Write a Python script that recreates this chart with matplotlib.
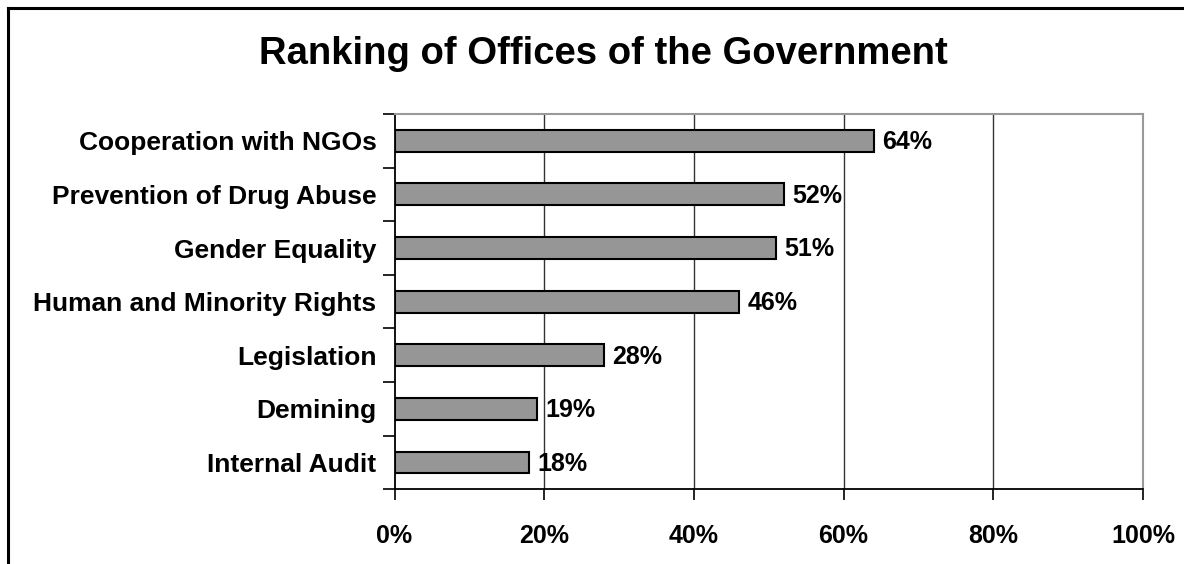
import matplotlib
matplotlib.use("Agg")
import matplotlib.pyplot as plt
from matplotlib.lines import Line2D
from matplotlib.ticker import FixedLocator, FuncFormatter

# Offices ranked, listed bottom to top
offices = ["Internal Audit", "Demining", "Legislation", "Human and Minority Rights",
           "Gender Equality", "Prevention of Drug Abuse", "Cooperation with NGOs"]
shares = [18, 19, 28, 46, 51, 52, 64]
x_ticks = [0, 20, 40, 60, 80, 100]

W, H = 1184, 564
fig = plt.figure(figsize=(W / 100, H / 100), dpi=100)
fig.patch.set_facecolor("white")

font = "Liberation Sans"
plt.rcParams["font.family"] = [font, "DejaVu Sans"]

ax = fig.add_axes([394.5 / W, (H - 489.3) / H, (1143 - 394.5) / W, (489.3 - 114) / H])

pos = list(range(len(offices)))
ax.barh(pos, shares, height=0.41, color="#969696", edgecolor="black", linewidth=1.5, zorder=3)

for p, v in zip(pos, shares):
    ax.annotate(f"{v}%", xy=(v, p), xytext=(6, -1), textcoords="offset points",
                ha="left", va="center", fontsize=18, fontweight="bold", color="black")

ax.set_xlim(0, 100)
ax.set_ylim(-0.5, len(offices) - 0.5)

# Vertical gridlines
ax.xaxis.set_major_locator(FixedLocator(x_ticks))
ax.xaxis.set_major_formatter(FuncFormatter(lambda v, _: f"{int(v)}%"))
for t in x_ticks[1:-1]:
    ax.axvline(t, color="#333333", linewidth=1.0, zorder=1)

ax.tick_params(axis="x", which="major", direction="out", length=8, width=1.2,
               color="black", pad=17, labelsize=18)
for lbl in ax.get_xticklabels():
    lbl.set_fontweight("bold")

# Category boundaries carry the tick marks; labels sit on the bar centres
ax.yaxis.set_major_locator(FixedLocator([p - 0.5 for p in pos] + [pos[-1] + 0.5]))
ax.yaxis.set_major_formatter(FuncFormatter(lambda v, _: ""))
ax.yaxis.set_minor_locator(FixedLocator(pos))
ax.set_yticklabels(offices, minor=True)
ax.tick_params(axis="y", which="major", direction="out", length=9, width=1.2, color="black")
ax.tick_params(axis="y", which="minor", length=0, pad=13, labelsize=19)
for lbl in ax.get_yticklabels(minor=True):
    lbl.set_fontweight("bold")

ax.spines["left"].set_color("black")
ax.spines["left"].set_linewidth(1.3)
ax.spines["bottom"].set_color("black")
ax.spines["bottom"].set_linewidth(1.3)
ax.spines["top"].set_color("#999999")
ax.spines["top"].set_linewidth(1.5)
ax.spines["right"].set_color("#999999")
ax.spines["right"].set_linewidth(1.5)

fig.text(603 / W, (H - 54) / H, "Ranking of Offices of the Government",
         ha="center", va="center", fontsize=27.5, fontweight="bold", color="black")

# Chart frame (top and left edges)
fig.add_artist(Line2D([8 / W, 1.0], [(H - 8) / H, (H - 8) / H], transform=fig.transFigure,
                      color="black", linewidth=2.2))
fig.add_artist(Line2D([8 / W, 8 / W], [0.0, (H - 8) / H], transform=fig.transFigure,
                      color="black", linewidth=2.2))

fig.savefig("out.png", dpi=100, facecolor="white")
